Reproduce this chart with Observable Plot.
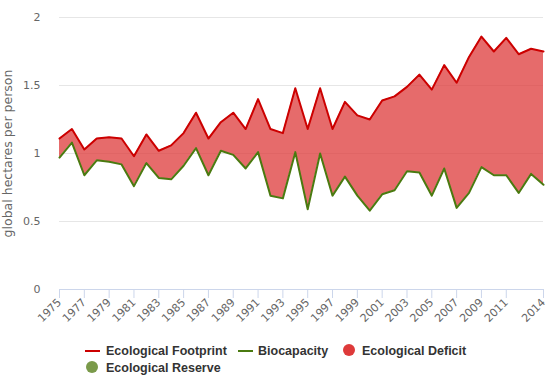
<!DOCTYPE html>
<html>
<head>
<meta charset="utf-8">
<script src="https://cdn.jsdelivr.net/npm/d3@7"></script>
<script src="https://cdn.jsdelivr.net/npm/@observablehq/plot@0.6"></script>
<style>
  html, body { margin: 0; padding: 0; background: #fff; }
  #wrap { position: relative; width: 550px; height: 381px; font-family: "DejaVu Sans", sans-serif; }
  #chart svg { display: block; }
  .lg { position: absolute; font: bold 12.5px "Liberation Sans", Arial, sans-serif; color: #333; line-height: 16px; white-space: nowrap; }
  .sym { position: absolute; }
</style>
</head>
<body>
<div id="wrap">
  <div id="chart"></div>
  <div id="legend"></div>
</div>
<script>
const years = [1975,1976,1977,1978,1979,1980,1981,1982,1983,1984,
               1985,1986,1987,1988,1989,1990,1991,1992,1993,1994,
               1995,1996,1997,1998,1999,2000,2001,2002,2003,2004,
               2005,2006,2007,2008,2009,2010,2011,2012,2013,2014];
const footprint = [1.11,1.18,1.03,1.11,1.12,1.11,0.98,1.14,1.02,1.06,
                   1.15,1.30,1.11,1.23,1.30,1.18,1.40,1.18,1.15,1.48,
                   1.18,1.48,1.18,1.38,1.28,1.25,1.39,1.42,1.49,1.58,
                   1.47,1.65,1.52,1.71,1.86,1.75,1.85,1.73,1.77,1.75];
const biocapacity = [0.97,1.08,0.84,0.95,0.94,0.92,0.76,0.93,0.82,0.81,
                     0.91,1.04,0.84,1.02,0.99,0.89,1.01,0.69,0.67,1.01,
                     0.59,1.00,0.69,0.83,0.69,0.58,0.70,0.73,0.87,0.86,
                     0.69,0.89,0.60,0.71,0.90,0.84,0.84,0.71,0.85,0.77];
const xTicks = [1975,1977,1979,1981,1983,1985,1987,1989,1991,1993,1995,1997,1999,2001,2003,2005,2007,2009,2011,2014];
const yTicks = [0, 0.5, 1, 1.5, 2];
const seriesNames = ["Ecological Footprint", "Biocapacity", "Ecological Deficit", "Ecological Reserve"];
const seriesColors = ["#cc0000", "#4a7a10", "#de3a3a", "#7a9a4a"];

const data = years.map((y, i) => ({year: y, fp: footprint[i], bc: biocapacity[i]}));

const chart = Plot.plot({
  width: 550,
  height: 335,
  marginTop: 17,
  marginBottom: 46,
  marginLeft: 59,
  marginRight: 7,
  style: {fontFamily: "DejaVu Sans, sans-serif", fontSize: "11px", color: "#666", background: "#fff"},
  x: {domain: [1975, 2014]},
  y: {domain: [0, 2]},
  marks: [
    Plot.gridY(yTicks.filter(d => d > 0), {stroke: "#e6e6e6", strokeOpacity: 1}),
    Plot.areaY(data, {x: "year", y1: "bc", y2: "fp", fill: seriesColors[2], fillOpacity: 0.75}),
    Plot.line(data, {x: "year", y: "bc", stroke: seriesColors[1], strokeWidth: 2}),
    Plot.line(data, {x: "year", y: "fp", stroke: seriesColors[0], strokeWidth: 2}),
    Plot.ruleY([0], {stroke: "#ccd6eb"}),
    Plot.axisX({ticks: xTicks, tickFormat: d => String(d), tickRotate: -45, tickSize: 9, tickPadding: 2, stroke: "#ccd6eb", label: null, fill: "#666"}),
    Plot.axisY({ticks: yTicks, tickFormat: d => String(d), tickSize: 0, tickPadding: 19, label: "global hectares per person", labelAnchor: "center", labelArrow: "none", labelOffset: 56, fill: "#666"})
  ]
});
d3.select(chart).selectAll('g[aria-label="y-axis label"]').attr("font-size", 12.5);
document.getElementById("chart").appendChild(chart);

const legend = document.getElementById("legend");
function addLine(x, cy, color) {
  const d = document.createElement("div");
  d.className = "sym";
  d.style.cssText = `left:${x}px;top:${cy - 1}px;width:15px;height:2px;background:${color}`;
  legend.appendChild(d);
}
function addDot(cx, cy, color) {
  const d = document.createElement("div");
  d.className = "sym";
  d.style.cssText = `left:${cx - 6}px;top:${cy - 6}px;width:12px;height:12px;border-radius:50%;background:${color}`;
  legend.appendChild(d);
}
function addText(x, cy, t) {
  const s = document.createElement("span");
  s.className = "lg";
  s.style.left = x + "px";
  s.style.top = (cy - 8) + "px";
  s.textContent = t;
  legend.appendChild(s);
}
addLine(85, 351, seriesColors[0]); addText(106, 351, seriesNames[0]);
addLine(238, 351, seriesColors[1]); addText(258, 351, seriesNames[1]);
addDot(349, 350, seriesColors[2]); addText(362, 351, seriesNames[2]);
addDot(92, 367, seriesColors[3]); addText(106, 368, seriesNames[3]);
</script>
</body>
</html>
